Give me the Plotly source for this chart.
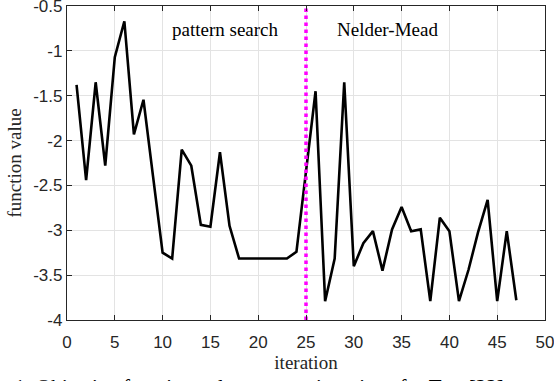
import plotly.graph_objects as go

iterations = list(range(1, 48))
values = [-1.38, -2.44, -1.35, -2.28, -1.07, -0.67, -1.93, -1.545, -2.40, -3.25,
          -3.315, -2.10, -2.28, -2.94, -2.96, -2.13, -2.95, -3.315, -3.315, -3.315,
          -3.315, -3.315, -3.315, -3.24, -2.35, -1.45, -3.79, -3.315, -1.35, -3.40,
          -3.145, -3.01, -3.45, -2.99, -2.74, -3.01, -2.99, -3.79, -2.86, -3.01,
          -3.79, -3.44, -3.02, -2.66, -3.79, -3.01, -3.78]
switch_iter = 25
x_ticks = [0, 5, 10, 15, 20, 25, 30, 35, 40, 45, 50]
y_ticks = [-4, -3.5, -3, -2.5, -2, -1.5, -1, -0.5]
y_tick_text = ["-4", "-3.5", "-3", "-2.5", "-2", "-1.5", "-1", "-0.5"]

fig = go.Figure()
fig.add_trace(go.Scatter(x=iterations, y=values, mode="lines",
                         line=dict(color="black", width=2.6), showlegend=False))
fig.add_trace(go.Scatter(x=[switch_iter, switch_iter], y=[-4, -0.5], mode="lines",
                         line=dict(color="#ff00ff", width=3.5, dash="dot"), showlegend=False))

fig.add_annotation(x=16.6, y=-0.767, text="pattern search", showarrow=False,
                   font=dict(family="Liberation Serif", size=19, color="black"))
fig.add_annotation(x=33.5, y=-0.767, text="Nelder-Mead", showarrow=False,
                   font=dict(family="Liberation Serif", size=19, color="black"))
fig.add_annotation(x=-0.195, y=-0.168, xref="paper", yref="paper", xanchor="left", yanchor="top",
                   text="Fig. 1: Objective function values versus iterations for Test [22]",
                   showarrow=False,
                   font=dict(family="Liberation Serif", size=21, color="black"))

axis_common = dict(showline=True, linecolor="#262626", linewidth=1.3, mirror="ticks",
                   ticks="inside", ticklen=5, tickcolor="#262626", tickwidth=1,
                   showgrid=True, gridcolor="#e3e3e3", gridwidth=1, zeroline=False,
                   ticklabeloverflow="allow", automargin=False,
                   tickfont=dict(family="Liberation Sans", size=17, color="#262626"))

fig.update_xaxes(range=[0, 50], tickvals=x_ticks, ticklabelstandoff=6,
                 title=dict(text="iteration", standoff=4,
                            font=dict(family="Liberation Serif", size=19, color="#262626")),
                 **axis_common)
fig.update_yaxes(range=[-4, -0.5], tickvals=y_ticks, ticktext=y_tick_text,
                 title=dict(text="function value", standoff=6,
                            font=dict(family="Liberation Serif", size=19, color="#262626")),
                 **axis_common)

fig.update_layout(width=554, height=381, margin=dict(l=67, r=9, t=6, b=61),
                  plot_bgcolor="white", paper_bgcolor="white")

fig.write_html("out.html")
